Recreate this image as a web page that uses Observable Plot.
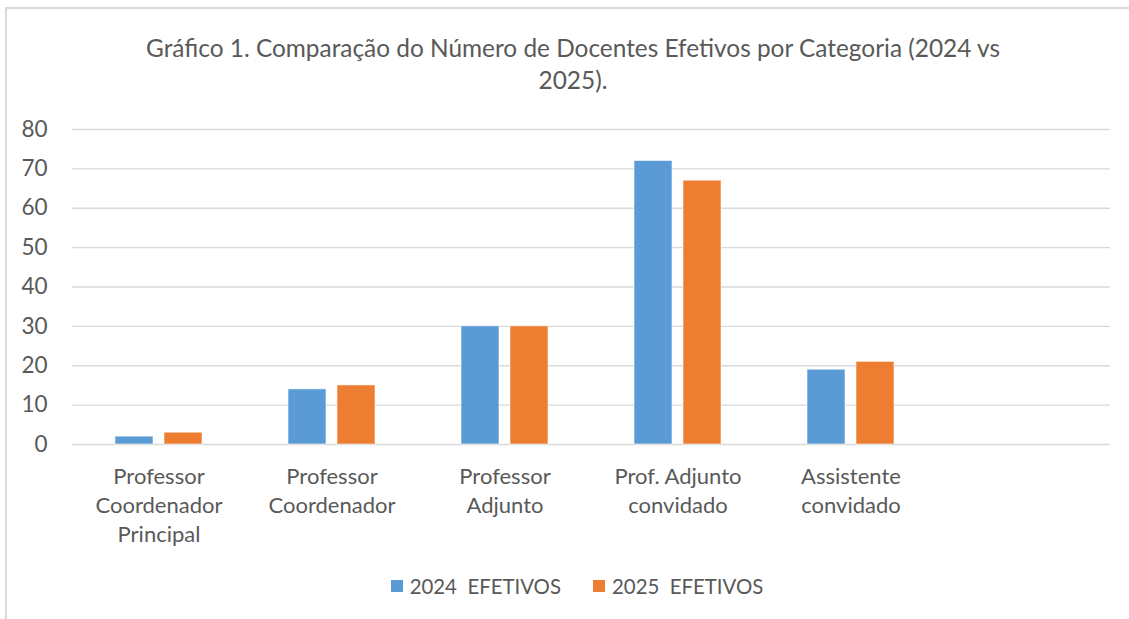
<!DOCTYPE html>
<html>
<head>
<meta charset="utf-8">
<script src="https://cdn.jsdelivr.net/npm/d3@7"></script>
<script src="https://cdn.jsdelivr.net/npm/@observablehq/plot@0.6"></script>
<style>
  html, body { margin: 0; padding: 0; background: #fff; }
  #chart { position: relative; width: 1129px; height: 619px; overflow: hidden; background: #fff; font-family: Lato, "Open Sans", sans-serif; color: #595959; }
  #frame { position: absolute; left: 5px; top: 7px; width: 1140px; height: 700px; border-left: 2px solid #d9d9d9; border-top: 2px solid #d9d9d9; box-sizing: border-box; }
  #title { position: absolute; left: 6px; width: 1134px; top: 32px; text-align: center; font-size: 24.4px; line-height: 32px; color: #595959; }
  #plot { position: absolute; left: 0; top: 100px; }
  #legend { position: absolute; left: 10px; width: 1134px; top: 574px; display: flex; justify-content: center; gap: 32px; font-size: 20.4px; color: #595959; }
  .item { display: flex; align-items: center; white-space: pre; }
  .sw { width: 12px; height: 12px; margin-right: 7px; }
</style>
</head>
<body>
<div id="chart">
  <div id="frame"></div>
  <div id="title"></div>
  <div id="plot"></div>
  <div id="legend"></div>
</div>
<script>
const titleLines = ["Gráfico 1. Comparação do Número de Docentes Efetivos por Categoria (2024 vs", "2025)."];
const categories = ["Professor\nCoordenador\nPrincipal", "Professor\nCoordenador", "Professor\nAdjunto", "Prof. Adjunto\nconvidado", "Assistente\nconvidado", " "];
const seriesKeys = ["2024", "2025"];
const seriesLabels = ["2024  EFETIVOS", "2025  EFETIVOS"];
const seriesColors = ["#5B9BD5", "#ED7D31"];
// sixth category slot is empty in the reference (no values)
const values2024 = [2, 14, 30, 72, 19, null];
const values2025 = [3, 15, 30, 67, 21, null];
const yTicks = [0, 10, 20, 30, 40, 50, 60, 70, 80];

const data = [];
values2024.forEach((v, i) => data.push({cat: categories[i], series: seriesKeys[0], value: v}));
values2025.forEach((v, i) => data.push({cat: categories[i], series: seriesKeys[1], value: v}));

document.getElementById("title").innerHTML = titleLines.map(s => `<div>${s}</div>`).join("");

const plot = Plot.plot({
  width: 1129,
  height: 460,
  marginLeft: 70,
  marginRight: 18,
  marginTop: 29,
  marginBottom: 116,
  style: {fontFamily: "Lato, 'Open Sans', sans-serif", color: "#595959", background: "transparent"},
  fx: {domain: categories, padding: 0, axis: null, label: null},
  x: {domain: seriesKeys, paddingInner: 0.22, paddingOuter: 0.845, axis: null},
  y: {domain: [0, 80], axis: null},
  color: {domain: seriesKeys, range: seriesColors},
  marks: [
    Plot.gridY(yTicks, {stroke: "#d9d9d9", strokeOpacity: 1, strokeWidth: 1.3}),
    Plot.axisY(yTicks, {tickSize: 0, tickPadding: 25, fontSize: 22.5, fill: "#595959", label: null}),
    Plot.axisFx({anchor: "bottom", tickSize: 0, tickPadding: 19, fontSize: 22, lineHeight: 1.32, fill: "#595959", label: null}),
    Plot.barY(data, {fx: "cat", x: "series", y: "value", fill: "series", stroke: "#ffffff", strokeWidth: 0.8, strokeOpacity: 0.7})
  ]
});
document.getElementById("plot").appendChild(plot);

const legend = document.getElementById("legend");
seriesKeys.forEach((k, i) => {
  const it = document.createElement("div");
  it.className = "item";
  it.innerHTML = `<span class="sw" style="background:${seriesColors[i]}"></span><span>${seriesLabels[i]}</span>`;
  legend.appendChild(it);
});
</script>
</body>
</html>
